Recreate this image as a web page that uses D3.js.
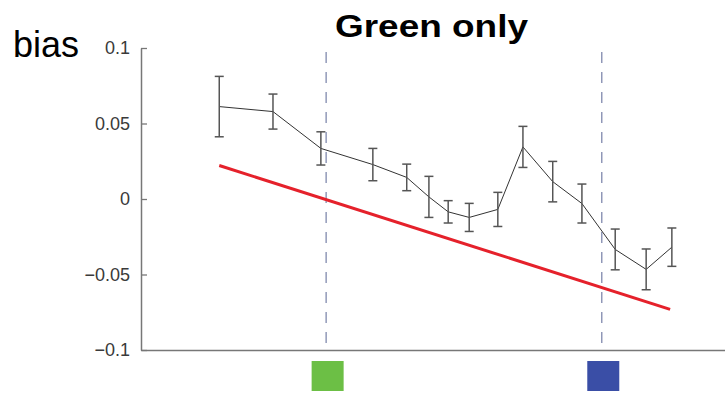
<!DOCTYPE html>
<html>
<head>
<meta charset="utf-8">
<script src="https://cdn.jsdelivr.net/npm/d3@7"></script>
<style>
  html, body { margin: 0; padding: 0; background: #fff; }
  svg { display: block; }
</style>
</head>
<body>
<svg id="chart" width="725" height="393"></svg>
<script>
// Stimulus positions along the hue axis and the measured bias at each
const positions = [13.4, 22.6, 30.8, 39.7, 45.5, 49.3, 52.6, 56.2, 61.1, 65.4, 70.5, 75.5, 81.2, 86.5, 90.9];
const bias      = [0.0612, 0.0579, 0.0335, 0.0228, 0.0143, 0.0014, -0.0085, -0.0122, -0.0069, 0.0345, 0.0115, -0.0030, -0.0334, -0.0466, -0.0319];
const errors    = [0.0200, 0.0116, 0.0110, 0.0107, 0.0088, 0.0136, 0.0074, 0.0093, 0.0113, 0.0136, 0.0134, 0.0129, 0.0135, 0.0135, 0.0127];

// Linear trend (start and end of the fitted line)
const trendX = [13.4, 90.6];
const trendY = [0.0222, -0.0731];

// Reference hues: green and blue
const refNames  = ["green", "blue"];
const refX      = [31.7, 78.9];
const refColors = ["#6cbf45", "#3a4ea6"];

const yTicks      = [0.1, 0.05, 0, -0.05, -0.1];
const yTickLabels = ["0.1", "0.05", "0", "\u22120.05", "\u22120.1"];

const svg = d3.select("#chart");

const x = d3.scaleLinear().domain([0, 100]).range([141, 725]);
const y = d3.scaleLinear().domain([-0.1, 0.1]).range([350, 48]);

// Title and y label
svg.append("text")
  .attr("x", 335).attr("y", 37)
  .attr("textLength", 193).attr("lengthAdjust", "spacingAndGlyphs")
  .style("font-family", "'Liberation Sans', Arial, sans-serif")
  .style("font-weight", "bold").style("font-size", "31px")
  .attr("fill", "#000")
  .text("Green only");

svg.append("text")
  .attr("x", 13).attr("y", 57)
  .style("font-family", "'Liberation Sans', Arial, sans-serif")
  .style("font-size", "36px")
  .attr("fill", "#000")
  .text("bias");

// Reference dashed lines
svg.append("g").selectAll("line")
  .data(refX)
  .join("line")
  .attr("x1", d => x(d)).attr("x2", d => x(d))
  .attr("y1", y(0.1) + 4).attr("y2", y(-0.1))
  .attr("stroke", "#8089ad")
  .attr("stroke-width", 1.3)
  .attr("stroke-dasharray", "11,9");

// Y axis
const yAxis = d3.axisLeft(y)
  .tickValues(yTicks)
  .tickFormat((d, i) => yTickLabels[i])
  .tickSizeInner(-6)
  .tickSizeOuter(0)
  .tickPadding(11);

const gy = svg.append("g")
  .attr("transform", `translate(${x(0)},0)`)
  .call(yAxis);
gy.select(".domain").attr("stroke", "#777").attr("stroke-width", 1.5);
gy.selectAll(".tick line").attr("stroke", "#777").attr("stroke-width", 1.3);
gy.selectAll(".tick text")
  .attr("fill", "#3a3a3a")
  .style("font-family", "'Liberation Sans', Arial, sans-serif")
  .style("font-size", "18px");

// X axis baseline
const xAxis = d3.axisBottom(x).tickValues([]).tickSizeOuter(0);
const gx = svg.append("g")
  .attr("transform", `translate(0,${y(-0.1)})`)
  .call(xAxis);
gx.select(".domain").attr("stroke", "#777").attr("stroke-width", 1.5);

// Trend line
svg.append("line")
  .attr("x1", x(trendX[0])).attr("y1", y(trendY[0]))
  .attr("x2", x(trendX[1])).attr("y2", y(trendY[1]))
  .attr("stroke", "#e5212b")
  .attr("stroke-width", 3);

// Mean bias line
const pts = positions.map((p, i) => ({ x: p, y: bias[i], e: errors[i] }));
svg.append("path")
  .datum(pts)
  .attr("fill", "none")
  .attr("stroke", "#333")
  .attr("stroke-width", 1)
  .attr("d", d3.line().x(d => x(d.x)).y(d => y(d.y)));

// Error bars
const cap = 4.5;
const eb = svg.append("g").attr("stroke", "#555").attr("stroke-width", 1.5);
eb.selectAll(".v").data(pts).join("line")
  .attr("x1", d => x(d.x)).attr("x2", d => x(d.x))
  .attr("y1", d => y(d.y + d.e)).attr("y2", d => y(d.y - d.e));
eb.selectAll(".t").data(pts).join("line")
  .attr("x1", d => x(d.x) - cap).attr("x2", d => x(d.x) + cap)
  .attr("y1", d => y(d.y + d.e)).attr("y2", d => y(d.y + d.e));
eb.selectAll(".b").data(pts).join("line")
  .attr("x1", d => x(d.x) - cap).attr("x2", d => x(d.x) + cap)
  .attr("y1", d => y(d.y - d.e)).attr("y2", d => y(d.y - d.e));

// Colour swatches below the axis
svg.append("g").selectAll("rect")
  .data(refX)
  .join("rect")
  .attr("x", d => x(d) - 14.5)
  .attr("y", 361)
  .attr("width", 32)
  .attr("height", 30)
  .attr("fill", (d, i) => refColors[i]);
</script>
</body>
</html>
